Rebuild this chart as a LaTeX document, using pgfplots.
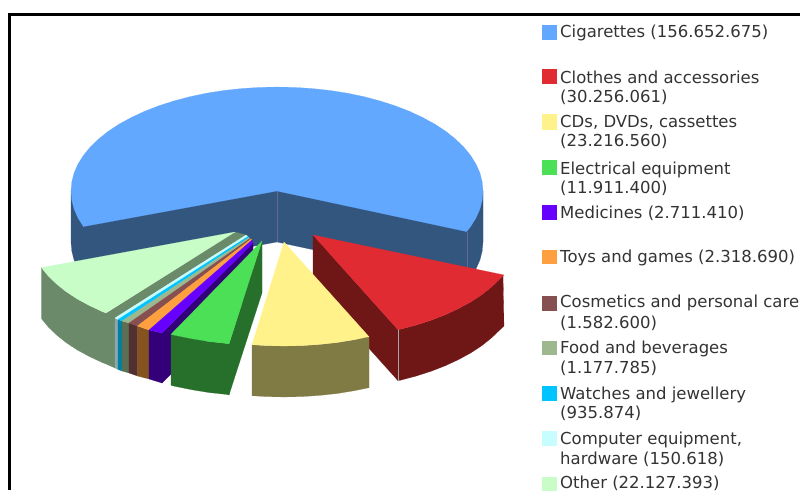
\documentclass[border=0pt]{standalone}
\usepackage{pgfplots}
\pgfplotsset{compat=1.18}
\usepackage{fontspec}
\setmainfont{DejaVu Sans}
\definecolor{bluetop}{HTML}{62A8FF}
\definecolor{blueside}{HTML}{33567F}
\definecolor{redtop}{HTML}{E02B33}
\definecolor{redside}{HTML}{6F1616}
\definecolor{yeltop}{HTML}{FFF28A}
\definecolor{yelside}{HTML}{807A45}
\definecolor{grntop}{HTML}{4CE056}
\definecolor{grnside}{HTML}{27702B}
\definecolor{medtop}{HTML}{6600FF}
\definecolor{medside}{HTML}{33007A}
\definecolor{toytop}{HTML}{FFA040}
\definecolor{toyside}{HTML}{84531E}
\definecolor{costop}{HTML}{875050}
\definecolor{cosside}{HTML}{53302F}
\definecolor{foodtop}{HTML}{9DB88F}
\definecolor{foodside}{HTML}{5C6E54}
\definecolor{wattop}{HTML}{00C4FF}
\definecolor{watside}{HTML}{007FA0}
\definecolor{comtop}{HTML}{C8FDFF}
\definecolor{comside}{HTML}{8AA6B0}
\definecolor{othtop}{HTML}{C8FDC8}
\definecolor{othside}{HTML}{6A8A6A}
\definecolor{legtxt}{HTML}{333333}
\pgfplotsset{poly/.style={fill=#1,draw=#1,line width=0.15pt,mark=none}}
\newcommand{\legtext}[2]{\node[anchor=base west,inner sep=0pt,text=legtxt,font=\fontsize{16.5}{18}\selectfont] at (axis cs:560,#1) {#2};}
\begin{document}
\begin{tikzpicture}
\begin{axis}[at={(0,0)},anchor=south west,scale only axis,width=800pt,height=490pt,
  hide axis,xmin=0,xmax=800,ymin=0,ymax=490,y dir=reverse,clip=false]
% frame
\addplot[black,line width=2.3pt,mark=none] coordinates {(9.5,490)(9.5,14.5)(800,14.5)};
% cigarettes wall
\addplot[poly=blueside] coordinates {(71,191)(71,242)(71.8,251.1)(74.1,260.1)(78,268.9)(83.4,277.6)(277,242)(466.6,282.6)(470.6,277.6)(476,268.9)(479.9,260.1)(482.2,251.1)(483,242)(483,191)} -- cycle;
% cigarettes top
\addplot[poly=bluetop] coordinates {(277,191)(83.4,226.6)(78,217.9)(74.1,209.1)(71.8,200.1)(71,191)(71.8,181.9)(74.1,172.9)(78,164.1)(83.4,155.4)(90.3,147)(98.6,139)(108.2,131.3)(119.2,124.1)(131.3,117.5)(144.6,111.3)(158.8,105.8)(174,100.9)(189.9,96.7)(206.5,93.2)(223.7,90.5)(241.2,88.6)(259,87.4)(277,87)(295,87.4)(312.8,88.6)(330.3,90.5)(347.5,93.2)(364.1,96.7)(380,100.9)(395.2,105.8)(409.4,111.3)(422.7,117.5)(434.8,124.1)(445.8,131.3)(455.4,139)(463.7,147)(470.6,155.4)(476,164.1)(479.9,172.9)(482.2,181.9)(483,191)(482.2,200.1)(479.9,209.1)(476,217.9)(470.6,226.6)(466.6,231.6)} -- cycle;
\addplot[color=gray!80!blue,line width=0.8pt,mark=none] coordinates {(277,191)(277,242)};
\addplot[color=gray!80!blue,line width=0.8pt,mark=none] coordinates {(467,232)(467,283)};
% clothes
\addplot[poly=redside] coordinates {(313,235)(398,329.7)(398,380.7)(313,286)} -- cycle;
\addplot[poly=redside] coordinates {(503,275)(499.7,279)(491.4,287)(481.8,294.7)(470.8,301.9)(458.7,308.5)(445.4,314.7)(431.2,320.2)(416,325.1)(400.1,329.3)(398,329.7)(398,380.7)(400.1,380.3)(416,376.1)(431.2,371.2)(445.4,365.7)(458.7,359.5)(470.8,352.9)(481.8,345.7)(491.4,338)(499.7,330)(504,326)} -- cycle;
\addplot[poly=redtop] coordinates {(313,235)(504,275)(499.7,279)(491.4,287)(481.8,294.7)(470.8,301.9)(458.7,308.5)(445.4,314.7)(431.2,320.2)(416,325.1)(400.1,329.3)(398,329.7)} -- cycle;
\addplot[color=gray!70,line width=0.8pt,mark=none] coordinates {(398,329.7)(398,380.7)};
% cds
\addplot[poly=yelside] coordinates {(369,336.7)(354.4,339.7)(337.3,342.5)(319.8,344.4)(302,345.6)(284,346)(266,345.6)(252,344.7)(252,395.7)(266,396.6)(284,397)(302,396.6)(319.8,395.4)(337.3,393.5)(354.4,390.7)(369,387.7)} -- cycle;
\addplot[poly=yeltop] coordinates {(284,242)(369,336.7)(354.4,339.7)(337.3,342.5)(319.8,344.4)(302,345.6)(284,346)(266,345.6)(252,344.7)} -- cycle;
% other
\addplot[poly=othside] coordinates {(235,232)(246,235)(115,318)(115,368)(106,364)(106,313)} -- cycle;
\addplot[poly=othside] coordinates {(41.4,267.6)(48.3,276)(56.6,284)(66.2,291.7)(77.2,298.9)(89.3,305.5)(102.6,311.7)(106,313)(106,364)(102.6,362.7)(89.3,356.5)(77.2,349.9)(66.2,342.7)(56.6,335)(48.3,327)(41.4,318.6)} -- cycle;
\addplot[poly=othtop] coordinates {(235,232)(41.4,267.6)(48.3,276)(56.6,284)(66.2,291.7)(77.2,298.9)(89.3,305.5)(102.6,311.7)(106,313)} -- cycle;
% small slices: front faces
\addplot[poly=comside] coordinates {(115,318)(118,319.5)(118,369.5)(115,368)} -- cycle;
\addplot[poly=watside] coordinates {(118,319.5)(122,321)(122,371)(118,369.5)} -- cycle;
\addplot[poly=foodside] coordinates {(122,321)(129,323)(129,373)(122,371)} -- cycle;
\addplot[poly=cosside] coordinates {(129,323)(137.5,326)(137.5,376)(129,373)} -- cycle;
\addplot[poly=toyside] coordinates {(137.5,326)(149,330)(149,379)(137.5,376)} -- cycle;
\addplot[poly=medside] coordinates {(149,330)(162,333)(162,383)(149,379)} -- cycle;
\addplot[poly=medside] coordinates {(162,333)(253,243)(253,293)(162,383)} -- cycle;
% small slices: tops
\addplot[poly=comtop] coordinates {(115,318)(118,319.5)(248,236.5)(246,235)} -- cycle;
\addplot[poly=wattop] coordinates {(118,319.5)(122,321)(249,237.5)(248,236.5)} -- cycle;
\addplot[poly=foodtop] coordinates {(122,321)(129,323)(250,238.5)(249,237.5)} -- cycle;
\addplot[poly=costop] coordinates {(129,323)(137.5,326)(251,239)(250,238.5)} -- cycle;
\addplot[poly=toytop] coordinates {(137.5,326)(149,330)(252,240)(251,239)} -- cycle;
\addplot[poly=medtop] coordinates {(149,330)(162,333)(253,243)(252,240)} -- cycle;
% electrical
\addplot[poly=grnside] coordinates {(262,241)(229,344)(229,395)(262,293)} -- cycle;
\addplot[poly=grnside] coordinates {(171,334.3)(174.9,335.3)(191.6,338.7)(208.7,341.5)(226.2,343.4)(229,344)(229,395)(226.2,394.4)(208.7,392.5)(191.6,389.7)(174.9,386.3)(171,385.3)} -- cycle;
\addplot[poly=grntop] coordinates {(262,241)(229,344)(226.2,343.4)(208.7,341.5)(191.6,338.7)(174.9,335.3)(171,334.3)} -- cycle;
% legend swatches
\addplot[poly=bluetop] coordinates {(542,25)(556,25)(556,39)(542,39)} -- cycle;
\addplot[poly=redtop] coordinates {(542,69)(556,69)(556,83)(542,83)} -- cycle;
\addplot[poly=yeltop] coordinates {(542,114.5)(556,114.5)(556,129)(542,129)} -- cycle;
\addplot[poly=grntop] coordinates {(542,160.5)(556,160.5)(556,174.5)(542,174.5)} -- cycle;
\addplot[poly=medtop] coordinates {(542,205)(556,205)(556,219)(542,219)} -- cycle;
\addplot[poly=toytop] coordinates {(542,250)(556,250)(556,263.5)(542,263.5)} -- cycle;
\addplot[poly=costop] coordinates {(542,296)(556,296)(556,310)(542,310)} -- cycle;
\addplot[poly=foodtop] coordinates {(542,341)(556,341)(556,354.5)(542,354.5)} -- cycle;
\addplot[poly=wattop] coordinates {(542,386)(556,386)(556,400)(542,400)} -- cycle;
\addplot[poly=comtop] coordinates {(542,431)(556,431)(556,445)(542,445)} -- cycle;
\addplot[poly=othtop] coordinates {(542,477)(556,477)(556,490)(542,490)} -- cycle;
% legend text
\legtext{37.5}{Cigarettes (156.652.675)}
\legtext{83}{Clothes and accessories}
\legtext{102}{(30.256.061)}
\legtext{127.7}{CDs, DVDs, cassettes}
\legtext{146.7}{(23.216.560)}
\legtext{174}{Electrical equipment}
\legtext{193}{(11.911.400)}
\legtext{218}{Medicines (2.711.410)}
\legtext{262.5}{Toys and games (2.318.690)}
\legtext{307.7}{Cosmetics and personal care}
\legtext{328}{(1.582.600)}
\legtext{353}{Food and beverages}
\legtext{373}{(1.177.785)}
\legtext{399}{Watches and jewellery}
\legtext{418}{(935.874)}
\legtext{444}{Computer equipment,}
\legtext{464}{hardware (150.618)}
\legtext{488}{Other (22.127.393)}
\end{axis}
\pgfresetboundingbox
\path (0,0) rectangle (800pt,490pt);
\end{tikzpicture}
\end{document}
